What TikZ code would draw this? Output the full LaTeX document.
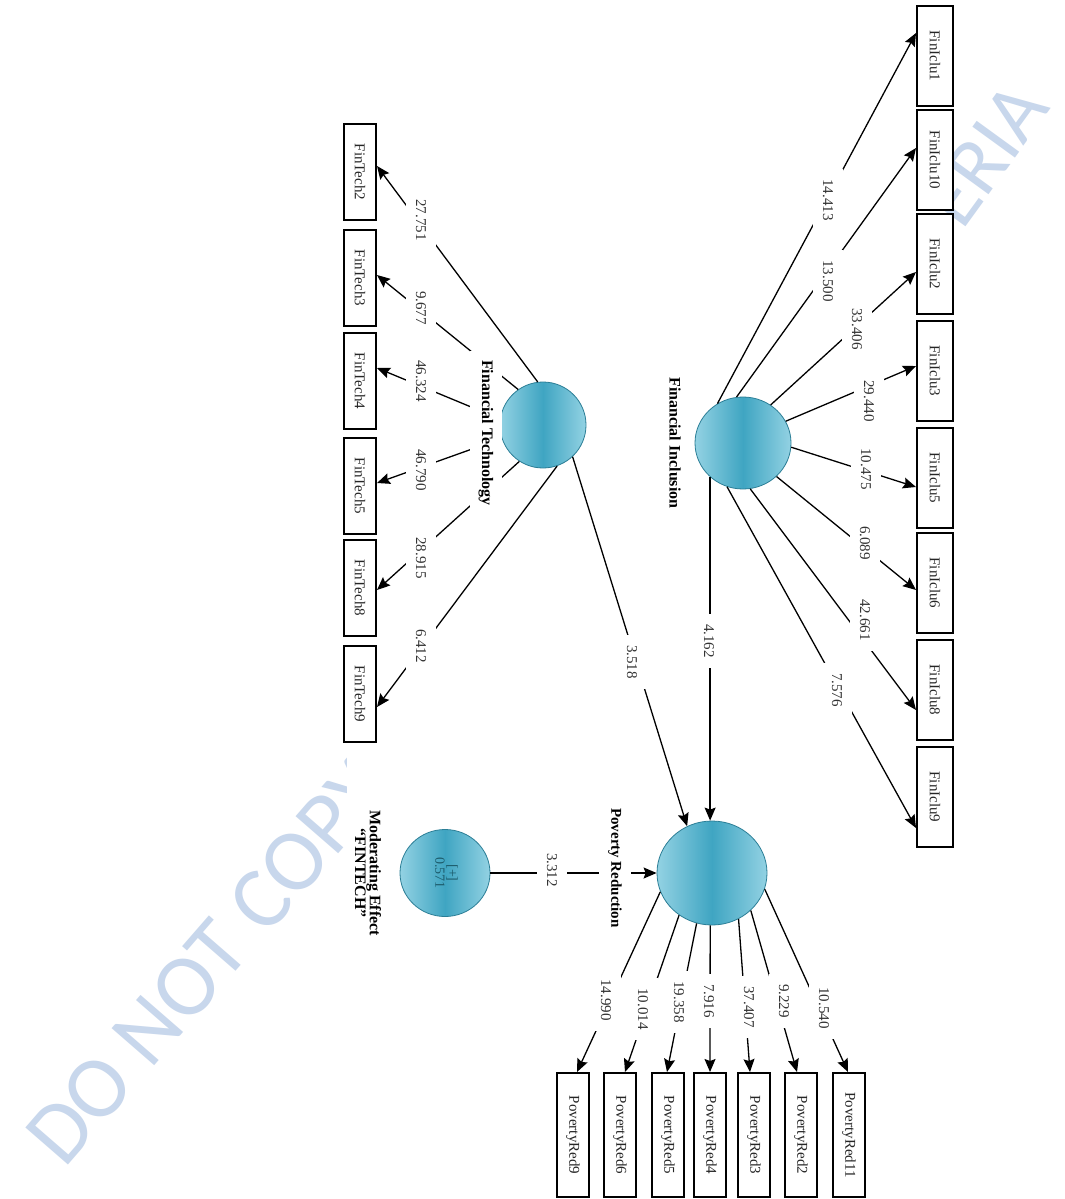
\documentclass[tikz,border=0pt]{standalone}
\usepackage{fontspec}
\setmainfont{Liberation Serif}
\newfontfamily\wmfont{Carlito}
\usepackage{graphicx}
\usetikzlibrary{shapes.geometric,arrows.meta}

\definecolor{latentmid}{HTML}{3FA5C2}
\definecolor{latentedge}{HTML}{93D2E3}
\definecolor{latentrim}{HTML}{2B7E96}
\definecolor{wmblue}{HTML}{C8D7EC}
\definecolor{innertext}{HTML}{1D5C6C}

% text set top-to-bottom
\newcommand{\vtext}[1]{\rotatebox{-90}{#1}}
\newcommand{\fsz}[2]{\fontsize{#1pt}{#2pt}\selectfont}

\tikzset{
  latent/.style={ellipse, draw=latentrim, line width=0.8pt,
    left color=latentedge, right color=latentedge, middle color=latentmid, inner sep=0pt},
  indbox/.style={draw, line width=2pt, inner sep=0pt, fill=white, text=black!85, font=\fsz{15}{18}},
  inclbox/.style={indbox, minimum width=36pt, minimum height=100pt},
  techbox/.style={indbox, minimum width=32pt, minimum height=96pt},
  povbox/.style={indbox, minimum width=32pt, minimum height=124pt},
  link/.style={line width=1.3pt, -{Stealth[length=13pt,width=11pt,inset=2pt]}},
  num/.style={fill=white, inner sep=10pt, text=black!80, font=\fsz{15}{18}},
  lvname/.style={font=\bfseries\fsz{16}{14}, inner sep=9pt},
  wm/.style={text=wmblue, font=\wmfont\fsz{88}{88}, inner sep=0pt}
}

\begin{document}
\begin{tikzpicture}[x=1pt,y=-1pt]
\useasboundingbox (0,0) rectangle (1065,1199);
\fill[white] (0,0) rectangle (1065,1199);

% watermark
\begin{scope}
  \clip (0,0) rectangle (346,1199);
  \node[wm, anchor=base west, rotate=49] (wmA) at (64,1170) {DO NOT COPY};
\end{scope}
\begin{scope}
  \clip (0,0) rectangle (1065,1199);
  \node[wm, anchor=base west, rotate=54, font=\wmfont\fsz{82}{82}] (wmB) at (962,232) {ERIA};
\end{scope}

% latent variables
\node[latent, minimum width=96pt, minimum height=92pt] (fi) at (743,443) {};
\node[latent, minimum width=86pt, minimum height=86pt] (ft) at (543,425) {};
\node[latent, minimum width=110pt, minimum height=104pt] (pr) at (712,873) {};
\node[latent, minimum width=90pt, minimum height=87pt, text=innertext, font=\fsz{14}{11}] (md) at (445,873)
  {\vtext{\begin{tabular}{@{}c@{}}[+]\\0.571\end{tabular}}};

% Financial Inclusion indicators
\node[inclbox] (i1)  at (935,56)  {\vtext{FinIclu1}};
\node[inclbox] (i10) at (935,160) {\vtext{FinIclu10}};
\node[inclbox] (i2)  at (935,264) {\vtext{FinIclu2}};
\node[inclbox] (i3)  at (935,371) {\vtext{FinIclu3}};
\node[inclbox] (i5)  at (935,478) {\vtext{FinIclu5}};
\node[inclbox] (i6)  at (935,583) {\vtext{FinIclu6}};
\node[inclbox] (i8)  at (935,690) {\vtext{FinIclu8}};
\node[inclbox] (i9)  at (935,797) {\vtext{FinIclu9}};

% Financial Technology indicators
\node[techbox] (t2) at (360,172) {\vtext{FinTech2}};
\node[techbox] (t3) at (360,278) {\vtext{FinTech3}};
\node[techbox] (t4) at (360,381) {\vtext{FinTech4}};
\node[techbox] (t5) at (360,486) {\vtext{FinTech5}};
\node[techbox] (t8) at (360,588) {\vtext{FinTech8}};
\node[techbox] (t9) at (360,694) {\vtext{FinTech9}};

% Poverty Reduction indicators
\node[povbox] (r9)  at (573,1135) {\vtext{PovertyRed9}};
\node[povbox] (r6)  at (620,1135) {\vtext{PovertyRed6}};
\node[povbox] (r5)  at (668,1135) {\vtext{PovertyRed5}};
\node[povbox] (r4)  at (710,1135) {\vtext{PovertyRed4}};
\node[povbox] (r3)  at (754,1135) {\vtext{PovertyRed3}};
\node[povbox] (r2)  at (801,1135) {\vtext{PovertyRed2}};
\node[povbox] (r11) at (849,1135) {\vtext{PovertyRed11}};

% outer loadings
\draw[link] (fi.123) -- ([yshift=23pt]i1.west);
\draw[link] (fi.98)  -- ([yshift=12pt]i10.west);
\draw[link] (fi.54)  -- ([yshift=-8pt]i2.west);
\draw[link] (fi.27)  -- ([yshift=5pt]i3.west);
\draw[link] (fi.-5)  -- ([yshift=-9pt]i5.west);
\draw[link] (fi.-45) -- ([yshift=-7pt]i6.west);
\draw[link] (fi.-81) -- ([yshift=-20pt]i8.west);
\draw[link] (fi.-110) -- ([yshift=-31pt]i9.west);

\draw[link] (ft.97)  -- ([yshift=6pt]t2.east);
\draw[link] (ft.125) -- ([yshift=3pt]t3.east);
\draw[link] (ft.172) -- ([yshift=13pt]t4.east);
\draw[link] (ft.198) -- ([yshift=3pt]t5.east);
\draw[link] (ft.237) -- ([yshift=-2pt]t8.east);
\draw[link] (ft.289) -- ([yshift=-13pt]t9.east);

\draw[link] (pr.200) -- ([xshift=4pt]r9.north);
\draw[link] (pr.232) -- ([xshift=5pt]r6.north);
\draw[link] (pr.253) -- ([xshift=-1pt]r5.north);
\draw[link] (pr.268) -- (r4.north);
\draw[link] (pr.300) -- ([xshift=-4pt]r3.north);
\draw[link] (pr.316) -- ([xshift=-4pt]r2.north);
\draw[link] (pr.343) -- ([xshift=-1pt]r11.north);

% structural paths
\draw[link] (fi.-134) -- (fi.-134 |- pr.north);
\draw[link] (ft.313) -- (pr.118);
\draw[link] (md.east) -- (pr.west);

% path coefficients (t values)
\node[num] (n1)  at (828,200) {\vtext{14.413}};
\node[num] (n2)  at (828,281) {\vtext{13.500}};
\node[num] (n3)  at (857,329) {\vtext{33.406}};
\node[num] (n4)  at (869,401) {\vtext{29.440}};
\node[num] (n5)  at (866,469) {\vtext{10.475}};
\node[num] (n6)  at (865,543) {\vtext{6.089}};
\node[num] (n7)  at (865,620) {\vtext{42.661}};
\node[num] (n8)  at (837,690) {\vtext{7.576}};
\node[num] (n9)  at (709,641) {\vtext{4.162}};

\node[num] (m1)  at (421,220) {\vtext{27.751}};
\node[num] (m2)  at (421,308) {\vtext{9.677}};
\node[num] (m3)  at (421,381) {\vtext{46.324}};
\node[num] (m4)  at (421,470) {\vtext{46.790}};
\node[num] (m5)  at (421,558) {\vtext{28.915}};
\node[num] (m6)  at (421,646) {\vtext{6.412}};
\node[num] (m7)  at (632,662) {\vtext{3.518}};
\node[num] (m8)  at (552,870) {\vtext{3.312}};

\node[num] (p1)  at (606,1000) {\vtext{14.990}};
\node[num] (p2)  at (643,1009) {\vtext{10.014}};
\node[num] (p3)  at (679,1002) {\vtext{19.358}};
\node[num] (p4)  at (709,1001) {\vtext{7.916}};
\node[num] (p5)  at (749,1007) {\vtext{37.407}};
\node[num] (p6)  at (784,1001) {\vtext{9.229}};
\node[num] (p7)  at (824,1008) {\vtext{10.540}};

% construct names
\node[lvname] (finame) at (675,443) {\vtext{Financial Inclusion}};
\node[lvname, fill=white] (ftname) at (486,433) {\vtext{Financial Technology}};
\node[lvname, fill=white, font=\bfseries\fsz{15}{14}] (prname) at (615,868) {\vtext{Poverty Reduction}};
\node[lvname, inner sep=0pt] (mdname) at (366,873)
  {\vtext{\begin{tabular}{@{}c@{}}Moderating Effect\\“FINTECH”\end{tabular}}};
\end{tikzpicture}
\end{document}
